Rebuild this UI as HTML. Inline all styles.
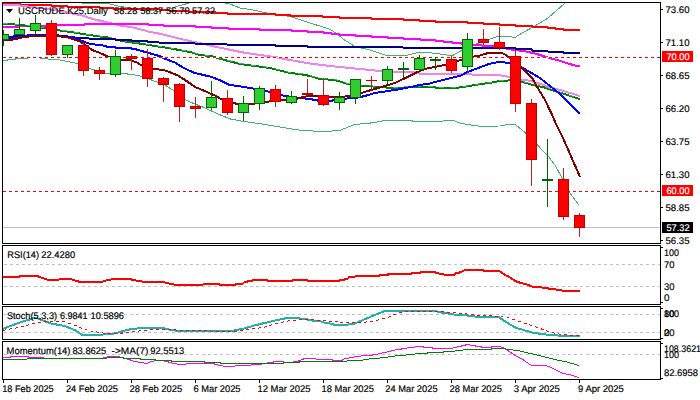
<!DOCTYPE html><html><head><meta charset="utf-8"><style>html,body{margin:0;padding:0;background:#fff;width:700px;height:400px;overflow:hidden}svg{display:block}text{font-family:"Liberation Sans",sans-serif;text-rendering:geometricPrecision;font-size:9px;fill:#000;stroke:#000;stroke-width:0.18px}</style></head><body>
<svg width="700" height="400" viewBox="0 0 700 400">
<defs><clipPath id="cm"><rect x="3" y="3" width="657" height="240"/></clipPath><clipPath id="cr"><rect x="3" y="246" width="657" height="58"/></clipPath><clipPath id="cs"><rect x="3" y="307" width="657" height="32"/></clipPath><clipPath id="cmo"><rect x="3" y="342" width="657" height="38"/></clipPath></defs>
<g clip-path="url(#cm)">
<polyline points="70,0 82,3 106,3 118,6 140,10 159,11.4 169,9 177,6.4 187,3.6 193,2 218,2 229,3.6 240,8 253,10 265,12.6 275,14.5 290,16.4 303,20.8 315,24.5 328,28.7 333,31 345,40.3 354,46 363,48.4 369,49.7 380,53.3 386,55.2 405,55.8 418,52.5 428,52.5 440,54 452,55.8 462,50.2 476,43.9 490,39 498,36.4 508,36.4 515,37.4 523,32.6 533,27 546,19.4 552,14.5 565,3 567,0" fill="none" stroke="#3cb371" stroke-width="1" stroke-linejoin="round" shape-rendering="crispEdges" />
<polyline points="3,60.5 7,60.5 7,59.5 15,59.5 15,58.5 27,58.5 27,57.5 40,57.5 40,58.5 48,58.5 48,59.5 60,60 70,62 78,63.5 89,68.3 105,73.3 121,73.3 133,74.6 143,76.5 155,81.4 164,84.5 174,90.8 186,100 193,103.2 205,108 218,114 230.5,119 240,120.8 252.6,122.6 265,124.5 277.7,126.7 290.3,128.7 300.4,130.2 315.5,131.2 328,131.4 340,130.3 345,128.4 354,124.6 362.8,123.7 374,122.7 385.4,120.2 412,120.2 412.6,121.4 442.8,121.4 443.4,120.2 453.5,120.2 458,122.5 466,124.2 472.3,125.2 480,126.2 500,126 507,124.5 515.5,124.5 526,133.3 537,144.6 548,156 555,165 562,178 568,190 572,196 579,205" fill="none" stroke="#3cb371" stroke-width="1" stroke-linejoin="round" shape-rendering="crispEdges" />
<polyline points="3,4 20,4 20.5,5 51,5 51.5,6 67,6 67.5,7 99,7 99.5,8 113,8 113.5,9 159,9 159.5,10 169,10 169.5,11 188.5,11 189,12 215,12 215.5,13 227,13 227.5,14 275.5,14 276,15 290.5,15 291,16 322.5,16 323,17 339,17 339.5,18 371,18 371.5,19 403,19 403.5,20 419,20 419.5,21 435.5,21 436,22 467,22 467.5,23 483,23 483.5,24 499,24 499.5,25 515,25 515.5,26 532,26 532.5,27 547,27 547.5,28 555,28 555.5,29 563,29 563.5,30 580,30" fill="none" stroke="#ff0000" stroke-width="2" stroke-linejoin="round" shape-rendering="crispEdges" />
<polyline points="3,5 20,5.5 40,8 60,11 80,15 90,18 93,19 97.5,20 101.5,21 105.5,22 109.5,23 113.5,24 118,25 122,26 131,27 137,28.5 143,30 150,32 156,33 161,34 167,35.5 173,37 179,38.5 185,40 190,41 197,42.5 204,44 210,45.5 226,49 244,52.6 260,55 275,57 290,60 310,63.5 330,66 350,68 370,70 388,72 419,72 419.5,74 455,74 466,74.4 498,75 510,77 521,79.6 529,80.7 540,84 560,90 580,96" fill="none" stroke="#ee82ee" stroke-width="2" stroke-linejoin="round" shape-rendering="crispEdges" />
<polyline points="3,27 19.5,27 20,26 56.5,26 57,25 84,25 84.5,24 148,24 149,25 163,25 164,26 195,26 196,27 211,27 212,28 228,28 229,29 259,29 259.5,30 291,30 291.5,31 307,31 307.5,32 323,32 323.5,33 331,33 331.5,34 339,34 339.5,35 355.5,35 356,36 371,36 371.5,37 387.5,37 388,38 403,38 403.5,39 420,39 420.5,40 435,40 435.5,41 443,41 443.5,42 452,42 452.5,43 461,43 461.5,44 467,44.3 485,45.8 500,46.8 510,49.4 518,50.4 527,51.7 538,54.3 548,57.6 558,60.2 567,63.2 576,65.8 580,66.5" fill="none" stroke="#ff00ff" stroke-width="2" stroke-linejoin="round" shape-rendering="crispEdges" />
<polyline points="3,23.5 11,24 19,25 30,26 44,28 57,30 60,30.5 72,32.2 79,33.3 84,34.2 89,35 95,35.8 107,37.4 124,41.4 141,43.7 159,46.6 170,48.3 190,52 200,55 211,56.1 223,59.6 234,62.4 240,64 255,66 270,68 290,73 300,74 310,76 320,79 335,80 348.75,84.4 361,85.6 380,87 392.5,88 404,88 404.5,87 435.5,87 436,88 455,88 466,86.5 478,84.5 489,83 501,80.8 510,80.4 521,81.5 533,85 545,87.6 558,92 570,95.8 580,99.2" fill="none" stroke="#008000" stroke-width="2" stroke-linejoin="round" shape-rendering="crispEdges" />
<polyline points="3,23 11,23.5 19,24.5 30,25.5 44,27.5 57,29.5 60,30 72,31.7 79,32.8 84,33.7 89,34.5 95,35.3 107,36.9 124,40.9 141,43.2 159,46.1 170,47.8 190,51.5 200,54.5 211,55.6 223,59.1 234,61.9 240,63.5 255,65.5 270,67.5 290,72.5 300,73.5 310,75.5 320,78.5 335,79.5 348.75,83.9 361,85.1 380,86.5 392.5,87.5 404,87.5 404.5,86.5 435.5,86.5 436,87.5 455,87.5 466,86 478,84 489,82.5 501,80.3 510,79.9 521,81 533,84.5 545,87.1 558,91.5 570,95.3 580,98.7" fill="none" stroke="#3cb371" stroke-width="1" stroke-linejoin="round" shape-rendering="crispEdges" stroke-dasharray="5,7"/>
<polyline points="3,37 45,35 68,37 90,38.6 115,39.1 116,40 147,41 148,42 170,43 195,43.5 197,44 227,44.5 229,45 275,45 276,46 307,46 308,47 403,47.5 405,48 515,48 516,49 531,49 532,50.5 547,50.5 548,51.5 563,52 564,53 580,53" fill="none" stroke="#000080" stroke-width="2" stroke-linejoin="round" shape-rendering="crispEdges" />
<polyline points="3,38.5 18,37 28,35.3 45,34.7 57,35.3 68,36.4 80,40 90,44 100,45 106.5,46 107,47 115,47 115.5,48 131,48 131.5,49 136,49 136.5,50 140,50.5 147,52.5 157.5,55.5 161,56.5 164,58.5 168,60 175,62.5 183,67.6 194,72.7 206,75.6 211,76.7 221,80.7 229,84.7 240,86.4 250,88 262,90 270,92 285,96 300,98 310,99 320,101 330,101 340,99 355,98 365,96 375,93 398,89.5 420,85 430,83.5 435,82 445,79.5 455,77 461,75.6 466,72.7 478,68 489,64 498,62 504,62.4 510,63 521,67 529,71.6 540,78 550,86 560,94 570,104 580,114" fill="none" stroke="#0000ff" stroke-width="2" stroke-linejoin="round" shape-rendering="crispEdges" />
<polyline points="3,40 11,40 17,38.6 26,36.7 36,36 46,36 66,36.7 71,38.6 80,41.4 92,50 100,53 109,57 111,58 121,59.7 130,60.3 136,62 141,65 147,67.7 153,69 164,70 171,72.7 178,75.6 185,80 192,84.7 195,87 202.5,90 210,93.5 216,96 221,99 232.5,102.5 237,104 252,104 265,102 282,100 297,98.7 303.5,97 308,96 325,96 329,97 340,97 350,96 361,93 380,87.5 395,83 407.5,77 417.5,72 425,69 435,66.9 446,64.75 462.5,59.4 475,56.25 480,55.5 490,52.5 501,52.5 505,54.4 510,57.7 521,66.4 524,70 532.5,78.7 537.5,87.5 545,100 551,112.5 556,124 563,138 570,154 580,177" fill="none" stroke="#800000" stroke-width="2" stroke-linejoin="round" shape-rendering="crispEdges" />
<line x1="3" y1="57.5" x2="660" y2="57.5" stroke="#fff" stroke-width="1"/>
<line x1="3" y1="57.5" x2="660" y2="57.5" stroke="#f00" stroke-width="1" stroke-dasharray="3,3"/>
<line x1="3" y1="191.5" x2="660" y2="191.5" stroke="#fff" stroke-width="1"/>
<line x1="3" y1="191.5" x2="660" y2="191.5" stroke="#f00" stroke-width="1" stroke-dasharray="3,3"/>
<line x1="3" y1="227.5" x2="660" y2="227.5" stroke="#c0c0c0" stroke-width="1"/>
<rect x="3" y="30" width="1" height="16" fill="#006400"/>
<rect x="-1.5" y="34.5" width="10" height="5" fill="#32cd32" stroke="#006400" stroke-width="1"/>
<rect x="19" y="18" width="1" height="17" fill="#006400"/>
<rect x="14.5" y="29.5" width="10" height="5" fill="#32cd32" stroke="#006400" stroke-width="1"/>
<rect x="35" y="15" width="1" height="20" fill="#006400"/>
<rect x="30.5" y="23.5" width="10" height="7" fill="#32cd32" stroke="#006400" stroke-width="1"/>
<rect x="51" y="20" width="1" height="36" fill="#b22222"/>
<rect x="46.5" y="23.5" width="10" height="31" fill="#ff0000" stroke="#c00000" stroke-width="1"/>
<rect x="67" y="45" width="1" height="13" fill="#006400"/>
<rect x="62.5" y="45.5" width="10" height="9" fill="#32cd32" stroke="#006400" stroke-width="1"/>
<rect x="83" y="42" width="1" height="34" fill="#b22222"/>
<rect x="78.5" y="45.5" width="10" height="25" fill="#ff0000" stroke="#c00000" stroke-width="1"/>
<rect x="99" y="67" width="1" height="13" fill="#b22222"/>
<rect x="94.5" y="70.5" width="10" height="3" fill="#ff0000" stroke="#c00000" stroke-width="1"/>
<rect x="115" y="50" width="1" height="27" fill="#006400"/>
<rect x="110.5" y="56.5" width="10" height="18" fill="#32cd32" stroke="#006400" stroke-width="1"/>
<rect x="131" y="54" width="1" height="16" fill="#b22222"/>
<rect x="126.5" y="56.5" width="10" height="2" fill="#ff0000" stroke="#c00000" stroke-width="1"/>
<rect x="147" y="49" width="1" height="38" fill="#b22222"/>
<rect x="142.5" y="58.5" width="10" height="20" fill="#ff0000" stroke="#c00000" stroke-width="1"/>
<rect x="163" y="77" width="1" height="25" fill="#b22222"/>
<rect x="158.5" y="78.5" width="10" height="6" fill="#ff0000" stroke="#c00000" stroke-width="1"/>
<rect x="179" y="83" width="1" height="39" fill="#b22222"/>
<rect x="174.5" y="84.5" width="10" height="22" fill="#ff0000" stroke="#c00000" stroke-width="1"/>
<rect x="195" y="97" width="1" height="21" fill="#b22222"/>
<rect x="190.5" y="106.5" width="10" height="2" fill="#ff0000" stroke="#c00000" stroke-width="1"/>
<rect x="211" y="81" width="1" height="29" fill="#006400"/>
<rect x="206.5" y="97.5" width="10" height="10" fill="#32cd32" stroke="#006400" stroke-width="1"/>
<rect x="227" y="90" width="1" height="25" fill="#b22222"/>
<rect x="222.5" y="98.5" width="10" height="14" fill="#ff0000" stroke="#c00000" stroke-width="1"/>
<rect x="243" y="96" width="1" height="25" fill="#006400"/>
<rect x="238.5" y="103.5" width="10" height="9" fill="#32cd32" stroke="#006400" stroke-width="1"/>
<rect x="259" y="86" width="1" height="24" fill="#006400"/>
<rect x="254.5" y="88.5" width="10" height="15" fill="#32cd32" stroke="#006400" stroke-width="1"/>
<rect x="275" y="85" width="1" height="22" fill="#b22222"/>
<rect x="270.5" y="89.5" width="10" height="12" fill="#ff0000" stroke="#c00000" stroke-width="1"/>
<rect x="291" y="91" width="1" height="13" fill="#006400"/>
<rect x="286.5" y="96.5" width="10" height="6" fill="#32cd32" stroke="#006400" stroke-width="1"/>
<rect x="307" y="79" width="1" height="17" fill="#b22222"/>
<rect x="302.5" y="93.5" width="10" height="1" fill="#ff0000" stroke="#c00000" stroke-width="1"/>
<rect x="323" y="78" width="1" height="28" fill="#b22222"/>
<rect x="318.5" y="95.5" width="10" height="9" fill="#ff0000" stroke="#c00000" stroke-width="1"/>
<rect x="339" y="92" width="1" height="18" fill="#006400"/>
<rect x="334.5" y="97.5" width="10" height="5" fill="#32cd32" stroke="#006400" stroke-width="1"/>
<rect x="355" y="79" width="1" height="25" fill="#006400"/>
<rect x="350.5" y="79.5" width="10" height="18" fill="#32cd32" stroke="#006400" stroke-width="1"/>
<rect x="371" y="76" width="1" height="14" fill="#b22222"/>
<rect x="366" y="80" width="11" height="1" fill="#c00000"/>
<rect x="387" y="66" width="1" height="19" fill="#006400"/>
<rect x="382.5" y="69.5" width="10" height="11" fill="#32cd32" stroke="#006400" stroke-width="1"/>
<rect x="403" y="62" width="1" height="16" fill="#006400"/>
<rect x="398.5" y="68.5" width="10" height="1" fill="#32cd32" stroke="#006400" stroke-width="1"/>
<rect x="419" y="55" width="1" height="16" fill="#006400"/>
<rect x="414.5" y="58.5" width="10" height="11" fill="#32cd32" stroke="#006400" stroke-width="1"/>
<rect x="435" y="57" width="1" height="13" fill="#006400"/>
<rect x="430.5" y="59.5" width="10" height="1" fill="#32cd32" stroke="#006400" stroke-width="1"/>
<rect x="451" y="56" width="1" height="17" fill="#b22222"/>
<rect x="446.5" y="59.5" width="10" height="11" fill="#ff0000" stroke="#c00000" stroke-width="1"/>
<rect x="467" y="33" width="1" height="40" fill="#006400"/>
<rect x="462.5" y="39.5" width="10" height="27" fill="#32cd32" stroke="#006400" stroke-width="1"/>
<rect x="483" y="29" width="1" height="16" fill="#b22222"/>
<rect x="478.5" y="39.5" width="10" height="3" fill="#ff0000" stroke="#c00000" stroke-width="1"/>
<rect x="499" y="27" width="1" height="23" fill="#b22222"/>
<rect x="494.5" y="42.5" width="10" height="5" fill="#ff0000" stroke="#c00000" stroke-width="1"/>
<rect x="515" y="51" width="1" height="61" fill="#b22222"/>
<rect x="510.5" y="56.5" width="10" height="47" fill="#ff0000" stroke="#c00000" stroke-width="1"/>
<rect x="531" y="99" width="1" height="87" fill="#b22222"/>
<rect x="526.5" y="103.5" width="10" height="56" fill="#ff0000" stroke="#c00000" stroke-width="1"/>
<rect x="547" y="139" width="1" height="68" fill="#006400"/>
<rect x="542.5" y="179.5" width="10" height="1" fill="#32cd32" stroke="#006400" stroke-width="1"/>
<rect x="563" y="168" width="1" height="52" fill="#b22222"/>
<rect x="558.5" y="179.5" width="10" height="37" fill="#ff0000" stroke="#c00000" stroke-width="1"/>
<rect x="579" y="213" width="1" height="24" fill="#b22222"/>
<rect x="574.5" y="215.5" width="10" height="12" fill="#ff0000" stroke="#c00000" stroke-width="1"/>
</g>
<g fill="none" stroke="#000" stroke-width="1">
<rect x="2.5" y="2.5" width="658" height="241"/>
<rect x="2.5" y="245.5" width="658" height="59"/>
<rect x="2.5" y="306.5" width="658" height="33"/>
<rect x="2.5" y="341.5" width="658" height="38"/>
</g>
<g clip-path="url(#cr)">
<line x1="4" y1="264.5" x2="660" y2="264.5" stroke="#c0c0c0" stroke-dasharray="3,3"/>
<line x1="4" y1="286.5" x2="660" y2="286.5" stroke="#c0c0c0" stroke-dasharray="3,3"/>
<polyline points="3,277 19,277 20,276 37.5,276 39,277 43,278.2 48.8,280 58,280 60,278.8 71,278.8 73,280 79,281.6 103,281.6 105,280.7 111,279.5 118,278.8 131,279 132,280 137,280.7 143,281.6 163,282 168,283.3 174,284.5 203,284.5 204,283.6 219,283.6 220,284.7 235,285 236,283.6 243,283.6 244,282.4 247,282.4 248,281.2 252,281.2 253,280.2 267,280 268,281 292,281 293,280 307.5,280 308,281 339,281 340,280 344,280 345,278.5 348,278.5 349,277.3 352,277.3 357,276 379,276 380,275 388,275 388,274 411,274 412,272.7 420,272.7 421,271.8 435,271.8 436,272.7 441,273.9 447,275 454,275 455,273.5 459,272.7 462,271.6 465,270 483,270 484,271 499,271 502,272.7 505,275 509,276.8 512,279 515.5,281.2 521,283 526,284.2 531,286 533.5,287 539.5,287.2 546,288 550,288.8 555,289.3 563,290.7 580,290.7" fill="none" stroke="#ff0000" stroke-width="2" stroke-linejoin="round" shape-rendering="crispEdges" />
</g>
<g clip-path="url(#cs)">
<line x1="4" y1="314.5" x2="660" y2="314.5" stroke="#c0c0c0" stroke-dasharray="3,3"/>
<line x1="4" y1="332.5" x2="660" y2="332.5" stroke="#c0c0c0" stroke-dasharray="3,3"/>
<polyline points="3,329 9,326.5 17,323.6 26,320.6 30,319.3 34,318 38,318.4 43,320.6 51.5,323.6 65,326 75.5,330.5 82,335 99.5,335 106,334 113,333.8 120,332 127,329.8 131.4,329.3 140,328 163,328 168,329.3 175,330.5 176,331 232,331 237,330 244,328.5 254,325.6 268,322.2 277,320.1 287,318 299,318 300,319 307,319 308,320 312,320 313,321 319,321 326,323 330,323.5 334,324.7 347,324.7 355,323.5 364,319.6 376,314.4 385,311 434.6,311 441.5,312.7 445,312.7 452,314.4 466,315.3 476,316.7 498,316.7 505,321.3 512,325.6 517,328.2 526,330.7 533,332.8 546,334.5 563,335.9 580,335.9" fill="none" stroke="#20b2aa" stroke-width="2" stroke-linejoin="round" shape-rendering="crispEdges" />
<polyline points="3,330.5 10,329 17,327.8 23,326.4 28,324.9 34,323.4 41,322.3 51,321.4 65,322 75.5,325.4 84,329.2 91,331 103,333 117,333.8 124,332.8 131,332 141,330.7 153,329.5 161.5,329 170,329.5 178.6,330.2 233.7,331.6 245.7,329.9 257.7,328.2 268,326.4 273,324.2 281.8,322.2 288.6,320.8 297.2,320.1 305.8,319.2 316,320 326.3,321 340,322 347,322.7 360,322.5 372.6,321.5 381.5,319 389,317 394,314.5 402,312.2 412.3,311 412.3,311 433,311 440,311.5 457,312.7 474.3,315 496.6,316.1 508.6,317.9 517.2,320.8 529.2,324.7 543,329.5 551.4,332.5 563,334.7 576.6,335.4 580,335.5" fill="none" stroke="#ff0000" stroke-width="1" stroke-linejoin="round" shape-rendering="crispEdges" stroke-dasharray="3,3"/>
</g>
<g clip-path="url(#cmo)">
<line x1="4" y1="354.5" x2="660" y2="354.5" stroke="#c0c0c0" stroke-dasharray="3,3"/>
<polyline points="3,357 10.7,357 10.7,356.3 28,356.3 28,357 43,357 43,358 103,358 103,357 107,357 110,356.3 118,356.3 123,358 129,359.4 134,361.3 142,362.7 147,363.4 150,362 155.7,360.6 161,360.6 166,361.3 171,362.7 177,364 186,364 187,363.4 214,363.4 214.3,364.3 220.3,365.5 225.5,366.4 235,366.4 235,365.2 251,365.2 251,364 251,364.5 261.4,364.5 261.4,363.5 267,363.5 267,362.5 273,362.5 273,361.5 283.6,361.5 283.6,362.5 293,362.5 293,361.5 298.6,361.5 298.6,360.5 300.3,360.5 305,358.3 315.7,358.3 316.6,359.5 332,359.5 333,360.4 342.3,360.4 343,359.2 347.5,358.3 353.5,357.1 358.6,356.2 367.2,355.4 374,354.9 379.2,353.7 384.3,352.6 389.5,351.4 396.3,349.7 400,349.3 401.4,349.3 401.4,348.3 407,348.3 407,347.4 415,347.4 415,346.4 423.6,346.4 423.6,347.4 432,347.4 432,348.3 453,348.3 453,347.4 457,347.4 457,346.4 461.4,346.4 461.4,345.4 465.7,345.4 465.7,344.6 470,344.6 470,345.4 475.7,345.4 475.7,346.4 481.4,346.4 481.4,347.4 491.4,347.4 491.4,346.4 500,346.4 503,347.7 508,350.6 513,354 515.7,355.7 521.4,358.6 528.6,363.6 531.4,365.4 540,365.7 548.6,366.1 552.9,368.6 560,372.1 563,373.6 570,374.6 578.6,377.4" fill="none" stroke="#ff00ff" stroke-width="1" stroke-linejoin="round" shape-rendering="crispEdges" />
<polyline points="3,359 27,359 27,358 107,358 107,357 123.6,357 123.6,358.4 140,358.4 140,359.4 155.7,359.4 155.7,360.3 171.4,360.3 171.4,361.3 204,361.4 204,362.6 220.3,362.6 220.3,363.4 220.3,363.5 267,363.5 267,363.5 283,363.5 283,362.5 299,362.5 299,361.5 346.6,361.5 347.5,360 362.9,360 363.8,359.2 374.9,358.8 375.8,358.3 382.6,357.8 391.2,356.6 398.9,355.4 400,355 406.4,355 406.4,354.3 415,354.3 415,353.6 427,353.6 427,352.6 443,352.6 443,351.4 455,351.4 455,350.3 463,350.3 463,349.3 491.4,349.3 491.4,348.3 503,348.3 509.8,349.8 517,350.3 524.3,352.1 534.3,354.3 545.7,357.1 557,360 567,362.1 578.6,365.4" fill="none" stroke="#008000" stroke-width="1" stroke-linejoin="round" shape-rendering="crispEdges" />
</g>
<g fill="#000">
<rect x="661" y="9" width="2" height="1"/>
<rect x="661" y="42" width="2" height="1"/>
<rect x="661" y="75" width="2" height="1"/>
<rect x="661" y="108" width="2" height="1"/>
<rect x="661" y="141" width="2" height="1"/>
<rect x="661" y="174" width="2" height="1"/>
<rect x="661" y="207" width="2" height="1"/>
<rect x="661" y="240" width="2" height="1"/>
<rect x="661" y="247" width="2" height="1"/>
<rect x="661" y="302" width="2" height="1"/>
<rect x="661" y="308" width="2" height="1"/>
<rect x="661" y="338" width="2" height="1"/>
<rect x="661" y="343" width="2" height="1"/>
<rect x="661" y="378" width="2" height="1"/>
<rect x="3" y="380" width="1" height="3"/>
<rect x="67" y="380" width="1" height="3"/>
<rect x="131" y="380" width="1" height="3"/>
<rect x="195" y="380" width="1" height="3"/>
<rect x="259" y="380" width="1" height="3"/>
<rect x="323" y="380" width="1" height="3"/>
<rect x="387" y="380" width="1" height="3"/>
<rect x="451" y="380" width="1" height="3"/>
<rect x="515" y="380" width="1" height="3"/>
<rect x="579" y="380" width="1" height="3"/>
</g>
<text transform="translate(665.5,13) scale(1,1.0)" x="0" y="0" textLength="24" lengthAdjust="spacingAndGlyphs" style="font-size:9.6px">73.60</text>
<text transform="translate(665.5,46) scale(1,1.0)" x="0" y="0" textLength="24" lengthAdjust="spacingAndGlyphs" style="font-size:9.6px">71.10</text>
<text transform="translate(665.5,79) scale(1,1.0)" x="0" y="0" textLength="24" lengthAdjust="spacingAndGlyphs" style="font-size:9.6px">68.65</text>
<text transform="translate(665.5,112) scale(1,1.0)" x="0" y="0" textLength="24" lengthAdjust="spacingAndGlyphs" style="font-size:9.6px">66.20</text>
<text transform="translate(665.5,145) scale(1,1.0)" x="0" y="0" textLength="24" lengthAdjust="spacingAndGlyphs" style="font-size:9.6px">63.75</text>
<text transform="translate(665.5,178) scale(1,1.0)" x="0" y="0" textLength="24" lengthAdjust="spacingAndGlyphs" style="font-size:9.6px">61.30</text>
<text transform="translate(665.5,211) scale(1,1.0)" x="0" y="0" textLength="24" lengthAdjust="spacingAndGlyphs" style="font-size:9.6px">58.85</text>
<text transform="translate(665.5,244) scale(1,1.0)" x="0" y="0" textLength="24" lengthAdjust="spacingAndGlyphs" style="font-size:9.6px">56.35</text>
<rect x="662" y="51" width="31" height="11" fill="#ff0000"/>
<text transform="translate(666.5,60) scale(1,1.0)" x="0" y="0" textLength="23" lengthAdjust="spacingAndGlyphs" style="font-size:9.6px;fill:#fff;stroke:#fff">70.00</text>
<rect x="662" y="185" width="31" height="11" fill="#ff0000"/>
<text transform="translate(666.5,194) scale(1,1.0)" x="0" y="0" textLength="23" lengthAdjust="spacingAndGlyphs" style="font-size:9.6px;fill:#fff;stroke:#fff">60.00</text>
<rect x="662" y="222" width="31" height="11" fill="#000"/>
<text transform="translate(666.5,231) scale(1,1.0)" x="0" y="0" textLength="23" lengthAdjust="spacingAndGlyphs" style="font-size:9.6px;fill:#fff;stroke:#fff">57.32</text>
<text transform="translate(664,256) scale(1,1.0)" x="0" y="0" textLength="15" lengthAdjust="spacingAndGlyphs" style="font-size:9.6px">100</text>
<text transform="translate(664,268) scale(1,1.0)" x="0" y="0" textLength="10.5" lengthAdjust="spacingAndGlyphs" style="font-size:9.6px">70</text>
<text transform="translate(664,290) scale(1,1.0)" x="0" y="0" textLength="10.5" lengthAdjust="spacingAndGlyphs" style="font-size:9.6px">30</text>
<text transform="translate(664,301) scale(1,1.0)" x="0" y="0" textLength="5.5" lengthAdjust="spacingAndGlyphs" style="font-size:9.6px">0</text>
<text transform="translate(664,317) scale(1,1.0)" x="0" y="0" textLength="15" lengthAdjust="spacingAndGlyphs" style="font-size:9.6px">100</text>
<text transform="translate(664,317) scale(1,1.0)" x="0" y="0" textLength="10.5" lengthAdjust="spacingAndGlyphs" style="font-size:9.6px">80</text>
<text transform="translate(664,336) scale(1,1.0)" x="0" y="0" textLength="10.5" lengthAdjust="spacingAndGlyphs" style="font-size:9.6px">20</text>
<text transform="translate(664,336) scale(1,1.0)" x="0" y="0" textLength="5.5" lengthAdjust="spacingAndGlyphs" style="font-size:9.6px">0</text>
<text transform="translate(664,352) scale(1,1.0)" x="0" y="0" textLength="37" lengthAdjust="spacingAndGlyphs" style="font-size:9.6px">108.3621</text>
<text transform="translate(664,358) scale(1,1.0)" x="0" y="0" textLength="15" lengthAdjust="spacingAndGlyphs" style="font-size:9.6px">100</text>
<text transform="translate(664,375.5) scale(1,1.0)" x="0" y="0" textLength="34" lengthAdjust="spacingAndGlyphs" style="font-size:9.6px">82.6958</text>
<text transform="translate(2.2,392) scale(1,1.0)" x="0" y="0" textLength="51.5" lengthAdjust="spacingAndGlyphs" style="font-size:9.6px">18 Feb 2025</text>
<text transform="translate(65.9,392) scale(1,1.0)" x="0" y="0" textLength="52.1" lengthAdjust="spacingAndGlyphs" style="font-size:9.6px">24 Feb 2025</text>
<text transform="translate(129.5,392) scale(1,1.0)" x="0" y="0" textLength="52.7" lengthAdjust="spacingAndGlyphs" style="font-size:9.6px">28 Feb 2025</text>
<text transform="translate(193.5,392) scale(1,1.0)" x="0" y="0" textLength="47" lengthAdjust="spacingAndGlyphs" style="font-size:9.6px">6 Mar 2025</text>
<text transform="translate(257.5,392) scale(1,1.0)" x="0" y="0" textLength="53" lengthAdjust="spacingAndGlyphs" style="font-size:9.6px">12 Mar 2025</text>
<text transform="translate(321.5,392) scale(1,1.0)" x="0" y="0" textLength="52.4" lengthAdjust="spacingAndGlyphs" style="font-size:9.6px">18 Mar 2025</text>
<text transform="translate(385.2,392) scale(1,1.0)" x="0" y="0" textLength="52.4" lengthAdjust="spacingAndGlyphs" style="font-size:9.6px">24 Mar 2025</text>
<text transform="translate(449.5,392) scale(1,1.0)" x="0" y="0" textLength="52.4" lengthAdjust="spacingAndGlyphs" style="font-size:9.6px">28 Mar 2025</text>
<text transform="translate(513.8,392) scale(1,1.0)" x="0" y="0" textLength="46.1" lengthAdjust="spacingAndGlyphs" style="font-size:9.6px">3 Apr 2025</text>
<text transform="translate(578.1,392) scale(1,1.0)" x="0" y="0" textLength="45.8" lengthAdjust="spacingAndGlyphs" style="font-size:9.6px">9 Apr 2025</text>
<polygon points="6,9 13,9 9.5,13" fill="#000"/>
<text transform="translate(18,14) scale(1,1.0)" x="0" y="0" textLength="89.7" lengthAdjust="spacingAndGlyphs" style="font-size:9.6px">USCRUDE.K25,Daily</text>
<text transform="translate(114.1,14) scale(1,1.0)" x="0" y="0" textLength="23.3" lengthAdjust="spacingAndGlyphs" style="font-size:9.6px">58.28</text>
<text transform="translate(140.5,14) scale(1,1.0)" x="0" y="0" textLength="22.6" lengthAdjust="spacingAndGlyphs" style="font-size:9.6px">58.37</text>
<text transform="translate(166,14) scale(1,1.0)" x="0" y="0" textLength="23.7" lengthAdjust="spacingAndGlyphs" style="font-size:9.6px">56.70</text>
<text transform="translate(192.1,14) scale(1,1.0)" x="0" y="0" textLength="23" lengthAdjust="spacingAndGlyphs" style="font-size:9.6px">57.32</text>
<text transform="translate(7.2,258) scale(1,1.0)" x="0" y="0" textLength="31.9" lengthAdjust="spacingAndGlyphs" style="font-size:9.6px">RSI(14)</text>
<text transform="translate(41.3,258) scale(1,1.0)" x="0" y="0" textLength="33.8" lengthAdjust="spacingAndGlyphs" style="font-size:9.6px">22.4280</text>
<text transform="translate(6.9,319) scale(1,1.0)" x="0" y="0" textLength="50.2" lengthAdjust="spacingAndGlyphs" style="font-size:9.6px">Stoch(5,3,3)</text>
<text transform="translate(59.9,319) scale(1,1.0)" x="0" y="0" textLength="27.5" lengthAdjust="spacingAndGlyphs" style="font-size:9.6px">6.9841</text>
<text transform="translate(90.5,319) scale(1,1.0)" x="0" y="0" textLength="33.5" lengthAdjust="spacingAndGlyphs" style="font-size:9.6px">10.5896</text>
<text transform="translate(6.6,354) scale(1,1.0)" x="0" y="0" textLength="63.9" lengthAdjust="spacingAndGlyphs" style="font-size:9.6px">Momentum(14)</text>
<text transform="translate(72.4,354) scale(1,1.0)" x="0" y="0" textLength="33.8" lengthAdjust="spacingAndGlyphs" style="font-size:9.6px">83.8625</text>
<text transform="translate(111.6,354) scale(1,1.0)" x="0" y="0" textLength="36.8" lengthAdjust="spacingAndGlyphs" style="font-size:9.6px">-&gt;MA(7)</text>
<text transform="translate(150.2,354) scale(1,1.0)" x="0" y="0" textLength="33.9" lengthAdjust="spacingAndGlyphs" style="font-size:9.6px">92.5513</text>
</svg></body></html>
